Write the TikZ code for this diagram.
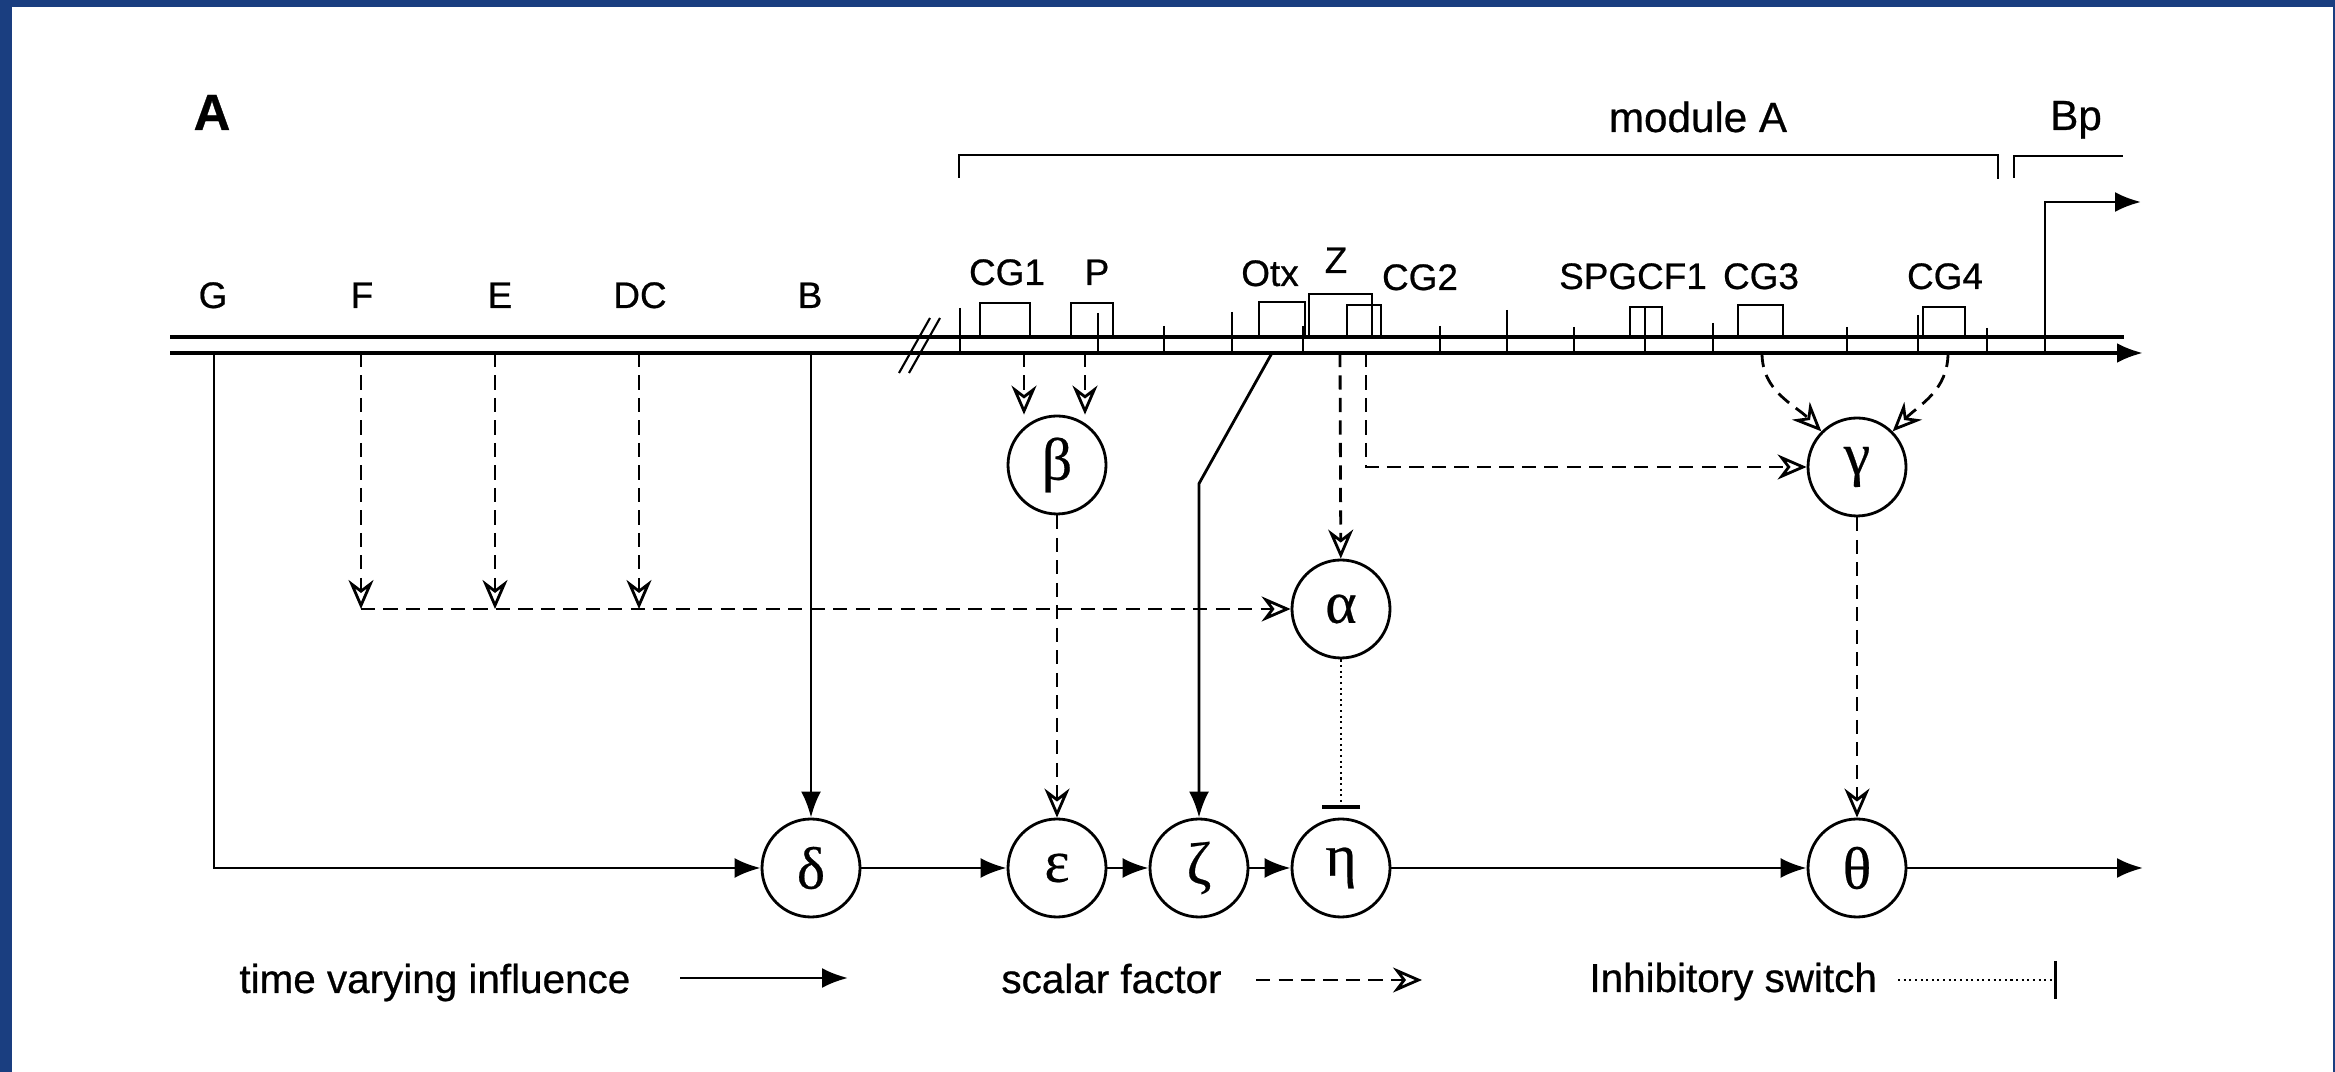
\documentclass[tikz,border=0pt]{standalone}
\usepackage{fontspec}
\setmainfont{Liberation Sans}[FakeBold=0.6]
\newfontfamily\greekfont{Liberation Serif}[FakeBold=0.4]
\usetikzlibrary{arrows.meta}
\definecolor{frameblue}{RGB}{26,62,128}

\begin{document}
\begin{tikzpicture}[node distance=1.42cm,>={Latex[length=2.6mm,width=2mm]},font=\fontsize{10.5}{12}\selectfont,
    state/.style={circle,draw,thick,minimum size=0.98cm,inner sep=0pt,font=\fontsize{17}{17}\selectfont\greekfont},
    influence/.style={->,thick},
    scalar/.style={-{Stealth[open,length=2.9mm,width=2.5mm]},thick,dash pattern=on 4pt off 2.4pt},
    inhibit/.style={-{Bar[width=3.8mm,line width=0.9pt]},semithick,densely dotted},
    site/.style={anchor=base},
    legend/.style={anchor=base west,font=\fontsize{11.5}{13}\selectfont}]

    \fill[frameblue] (0,0) rectangle (23.35,-10.72);
    \fill[white] (0.12,-0.07) rectangle (23.33,-10.72);
    \useasboundingbox (0,0) rectangle (23.35,-10.72);

    \node[anchor=base,font=\bfseries\fontsize{14.5}{16}\selectfont] (panel) at (2.12,-1.30) {A};

    % module brackets and promoter
    \node[site,font=\fontsize{12}{14}\selectfont] (modA) at (16.98,-1.32) {module A};
    \node[site,font=\fontsize{12}{14}\selectfont] (Bp) at (20.76,-1.30) {Bp};
    \draw[semithick] (9.59,-1.78) -- (9.59,-1.55) -- (19.98,-1.55) -- (19.98,-1.79);
    \draw[semithick] (20.14,-1.78) -- (20.14,-1.56) -- (21.23,-1.56);
    \draw[->,thick] (20.45,-3.53) -- (20.45,-2.02) -- (21.41,-2.02);

    % DNA
    \draw[line width=1.1pt] (1.70,-3.37) -- (21.24,-3.37);
    \draw[line width=1.1pt,->] (1.70,-3.53) -- (21.43,-3.53);
    \draw[semithick] (8.99,-3.73) -- (9.30,-3.18) (9.09,-3.73) -- (9.40,-3.18);
    \draw[semithick] (9.60,-3.08) -- (9.60,-3.53) (10.98,-3.13) -- (10.98,-3.53)
        (11.64,-3.26) -- (11.64,-3.53) (12.32,-3.12) -- (12.32,-3.53)
        (13.03,-3.26) -- (13.03,-3.53) (14.40,-3.26) -- (14.40,-3.53)
        (15.07,-3.10) -- (15.07,-3.53) (15.74,-3.27) -- (15.74,-3.53)
        (16.45,-3.07) -- (16.45,-3.53) (17.13,-3.23) -- (17.13,-3.53)
        (18.47,-3.27) -- (18.47,-3.53) (19.18,-3.15) -- (19.18,-3.53)
        (19.87,-3.28) -- (19.87,-3.53);
    \draw[semithick] (9.80,-3.37) |- (10.30,-3.03) -- (10.30,-3.37);
    \draw[semithick] (10.71,-3.37) |- (11.13,-3.03) -- (11.13,-3.37);
    \draw[semithick] (12.59,-3.37) |- (13.05,-3.02) -- (13.05,-3.37);
    \draw[semithick] (13.09,-3.37) |- (13.72,-2.94) -- (13.72,-3.37);
    \draw[semithick] (13.47,-3.37) |- (13.81,-3.05) -- (13.81,-3.37);
    \draw[semithick] (16.30,-3.37) |- (16.62,-3.07) -- (16.62,-3.37);
    \draw[semithick] (17.38,-3.37) |- (17.83,-3.05) -- (17.83,-3.37);
    \draw[semithick] (19.23,-3.37) |- (19.65,-3.07) -- (19.65,-3.37);

    \node[site] (G) at (2.13,-3.08) {G};
    \node[site] (F) at (3.62,-3.08) {F};
    \node[site] (E) at (5.00,-3.08) {E};
    \node[site] (DC) at (6.40,-3.08) {DC};
    \node[site] (B) at (8.10,-3.08) {B};
    \node[site] (CGone) at (10.07,-2.85) {CG1};
    \node[site] (P) at (10.97,-2.85) {P};
    \node[site] (Otx) at (12.70,-2.86) {Otx};
    \node[site] (Z) at (13.36,-2.73) {Z};
    \node[site] (CGtwo) at (14.20,-2.90) {CG2};
    \node[site] (SPGCF) at (16.33,-2.89) {SPGCF1};
    \node[site] (CGthree) at (17.61,-2.89) {CG3};
    \node[site] (CGfour) at (19.45,-2.89) {CG4};

    \coordinate (sG) at (2.14,-3.53);
    \coordinate (sF) at (3.61,-3.53);
    \coordinate (sE) at (4.95,-3.53);
    \coordinate (sDC) at (6.39,-3.53);
    \coordinate (sB) at (8.11,-3.53);
    \coordinate (sCGone) at (10.24,-3.53);
    \coordinate (sP) at (10.85,-3.53);
    \coordinate (sOtx) at (12.72,-3.53);
    \coordinate (sZa) at (13.40,-3.53);
    \coordinate (sZb) at (13.66,-3.53);
    \coordinate (sCGthree) at (17.62,-3.53);
    \coordinate (sCGfour) at (19.48,-3.53);

    % logic nodes
    \node[state] (delta) at (8.11,-8.68) {δ};
    \node[state] (epsilon) at (10.57,-8.68) {ε};
    \node[state,right of=epsilon] (zeta) {ζ};
    \node[state,right of=zeta] (eta) {η};
    \node[state] (theta) at (18.57,-8.68) {θ};
    \node[state,node distance=4.03cm,above of=epsilon] (beta) {β};
    \node[state,node distance=2.59cm,above of=eta] (alpha) {α};
    \node[state,node distance=4.01cm,above of=theta] (gamma) {γ};
    \coordinate (out) at (21.43,-8.68);

    \draw[influence] (sG) |- (delta);
    \draw[influence] (sB) -- (delta);
    \draw[influence] (sOtx) -- ([yshift=3.34cm]zeta.north) -- (zeta);
    \draw[influence] (delta) -- (epsilon);
    \draw[influence] (epsilon) -- (zeta);
    \draw[influence] (zeta) -- (eta);
    \draw[influence] (eta) -- (theta);
    \draw[influence] (theta) -- (out);

    \draw[scalar] (sCGone) -- (sCGone |- beta.north);
    \draw[scalar] (sP) -- (sP |- beta.north);
    \draw[scalar] (beta) -- (epsilon);
    \draw[scalar] (sF) -- (sF |- alpha);
    \draw[scalar] (sE) -- (sE |- alpha);
    \draw[scalar] (sDC) -- (sDC |- alpha);
    \draw[scalar] (sF |- alpha) -- (alpha);
    \draw[scalar] (sZa) -- (alpha);
    \draw[scalar] (sZb) |- (gamma);
    \draw[scalar] (sCGthree) to[out=-90,in=135] (gamma.135);
    \draw[scalar] (sCGfour) to[out=-90,in=45] (gamma.45);
    \draw[scalar] (gamma) -- (theta);
    \draw[inhibit,shorten >=0.09cm] (alpha) -- (eta);

    % legend
    \begin{scope}
        \node[legend] (lgtime) at (2.27,-9.93) {time varying influence};
        \node[legend] (lgscalar) at (9.89,-9.93) {scalar factor};
        \node[legend] (lgswitch) at (15.77,-9.92) {Inhibitory switch};
        \coordinate (lgtimeA) at (6.80,-9.78);
        \coordinate (lgtimeB) at (8.48,-9.78);
        \coordinate (lgscalarA) at (12.56,-9.80);
        \coordinate (lgscalarB) at (14.22,-9.80);
        \coordinate (lgswitchA) at (18.98,-9.80);
        \coordinate (lgswitchB) at (20.57,-9.80);
        \draw[influence] (lgtimeA) -- (lgtimeB);
        \draw[scalar] (lgscalarA) -- (lgscalarB);
        \draw[inhibit] (lgswitchA) -- (lgswitchB);
    \end{scope}

\end{tikzpicture}
\end{document}
